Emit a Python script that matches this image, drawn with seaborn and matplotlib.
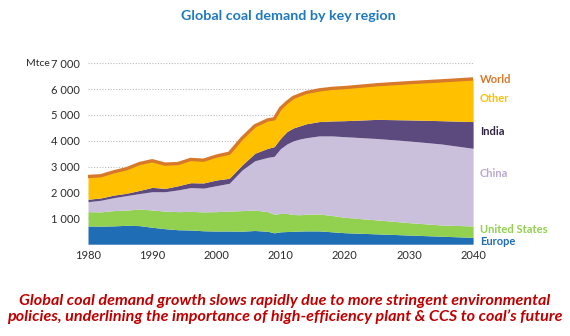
import matplotlib
matplotlib.use("Agg")
import matplotlib.pyplot as plt
import matplotlib.ticker as mticker
import numpy as np
import pandas as pd
import seaborn as sns

# Coal demand by region, Mtce
years = [1980, 1982, 1984, 1986, 1988, 1990, 1992, 1994, 1996, 1998, 2000, 2002,
         2004, 2006, 2008, 2009, 2010, 2011, 2012, 2013, 2014, 2016, 2018, 2020,
         2025, 2030, 2035, 2040]
europe = [705, 700, 710, 730, 720, 655, 600, 560, 550, 520, 510, 510,
          505, 530, 500, 440, 480, 490, 500, 510, 515, 515, 480, 445,
          400, 355, 310, 265]
united_states = [555, 550, 590, 590, 640, 670, 680, 700, 720, 730, 750, 770,
                 795, 790, 760, 720, 710, 700, 650, 630, 645, 655, 630, 595,
                 540, 480, 435, 440]
china = [385, 450, 500, 560, 600, 705, 750, 840, 920, 920, 1005, 1075,
         1570, 1910, 2100, 2240, 2510, 2690, 2850, 2930, 2960, 3020, 3080, 3120,
         3150, 3160, 3135, 3005]
india = [95, 90, 100, 90, 120, 170, 130, 160, 190, 200, 220, 195,
         195, 290, 350, 375, 400, 480, 500, 510, 540, 555, 580, 620,
         740, 815, 900, 1035]
other = [880, 860, 900, 950, 1040, 1030, 940, 860, 900, 880, 925, 970,
         1035, 1060, 1100, 1075, 1160, 1130, 1180, 1200, 1210, 1225, 1260, 1280,
         1340, 1440, 1540, 1650]

regions = ["Europe", "United States", "China", "India", "Other"]
colors = ["#1F6DB5", "#92D050", "#CBC0DC", "#5C4A7F", "#FFC000"]
label_colors = ["#1F6DB5", "#92D050", "#B8AACF", "#2E2440", "#FFC000"]
world_color = "#D7782A"

df = pd.DataFrame({"year": years, "Europe": europe, "United States": united_states,
                   "China": china, "India": india, "Other": other})
df["World"] = df[regions].sum(axis=1)

sns.set_style("white")
plt.rcParams["font.family"] = ["Lato", "DejaVu Sans"]

fig = plt.figure(figsize=(5.7, 3.36), dpi=100)
ax = fig.add_axes([0.1544, 0.2732, 0.6756, 0.5384])

ax.stackplot(df["year"], [df[r] for r in regions], colors=colors, linewidth=0)
sns.lineplot(data=df, x="year", y="World", color=world_color, linewidth=2.4,
             ax=ax, zorder=5)

ax.set_xlim(1980, 2040)
ax.set_ylim(0, 7000)
ax.set_yticks(range(1000, 7001, 1000))
ax.yaxis.set_major_formatter(mticker.FuncFormatter(
    lambda v, p: f"{int(v):,}".replace(",", " ")))
ax.set_xticks(range(1980, 2041, 10))
ax.tick_params(axis="both", length=0, labelsize=8, colors="#2B2B2B")
ax.tick_params(axis="x", pad=4)
ax.tick_params(axis="y", pad=6)
ax.grid(axis="y", linestyle=(0, (1, 1.5)), color="#BBBBBB", linewidth=0.8)
ax.set_axisbelow(True)
for s in ax.spines.values():
    s.set_visible(False)
ax.set_xlabel("")
ax.set_ylabel("")

fig.text(26 / 570, 1 - 63.3 / 336, "Mtce", fontsize=7.5, color="#2B2B2B",
         va="center", ha="left")

# End-of-series labels
label_y = {"World": 6384, "Other": 5620, "India": 4355, "China": 2718,
           "United States": 550, "Europe": 124}
lab_col = dict(zip(regions, label_colors))
lab_col["World"] = world_color
for name, yv in label_y.items():
    ax.annotate(name, xy=(2040, yv), xytext=(5, 0), textcoords="offset points",
                ha="left", va="center", fontsize=8, fontweight="bold",
                color=lab_col[name], annotation_clip=False)

fig.text(0.506, 1 - 16 / 336, "Global coal demand by key region", ha="center",
         va="center", fontsize=10.3, fontweight="bold", color="#1F79BF")

fig.text(0.5, 1 - 309 / 336,
         "Global coal demand growth slows rapidly due to more stringent environmental\n"
         "policies, underlining the importance of high-efficiency plant & CCS to coal\u2019s future",
         ha="center", va="center", fontsize=11.6, fontweight="bold", style="italic",
         color="#C00000", linespacing=1.15)

fig.savefig("out.png", dpi=100)
